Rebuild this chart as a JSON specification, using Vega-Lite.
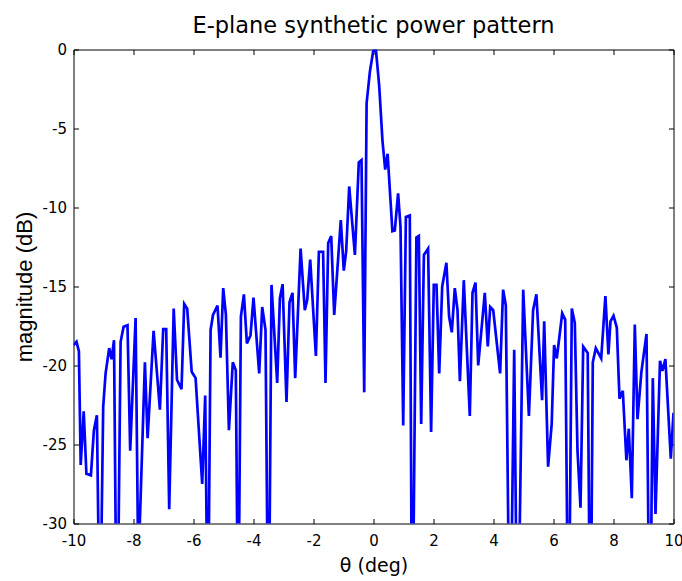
{
  "$schema": "https://vega.github.io/schema/vega-lite/v6.json",
  "width": 600,
  "height": 474,
  "autosize": {"type": "none"},
  "padding": {"left": 73.5, "top": 49.5, "right": 8.5, "bottom": 57.5},
  "background": "white",
  "config": {
    "font": "DejaVu Sans",
    "view": {"stroke": "black", "strokeWidth": 1},
    "axis": {"grid": false, "domainColor": "black", "tickColor": "black", "labelColor": "black", "titleColor": "black", "labelFont": "DejaVu Sans", "titleFont": "DejaVu Sans", "titleFontWeight": "normal"}
  },
  "title": {"text": "E-plane synthetic power pattern", "fontSize": 22.5, "fontWeight": "normal", "color": "black", "font": "DejaVu Sans", "anchor": "middle", "frame": "group", "baseline": "bottom", "offset": -17.5},
  "data": {"values": [
    {"theta": -10.00, "mag": -18.7}, {"theta": -9.90, "mag": -18.5}, {"theta": -9.82, "mag": -19.1}, {"theta": -9.76, "mag": -26.3},
    {"theta": -9.66, "mag": -22.9}, {"theta": -9.57, "mag": -26.85}, {"theta": -9.42, "mag": -26.95}, {"theta": -9.32, "mag": -24.1},
    {"theta": -9.22, "mag": -23.15}, {"theta": -9.12, "mag": -38}, {"theta": -9.01, "mag": -22.6}, {"theta": -8.93, "mag": -20.5},
    {"theta": -8.81, "mag": -18.9}, {"theta": -8.73, "mag": -19.6}, {"theta": -8.65, "mag": -18.4}, {"theta": -8.55, "mag": -40},
    {"theta": -8.43, "mag": -18.5}, {"theta": -8.33, "mag": -17.55}, {"theta": -8.20, "mag": -17.45}, {"theta": -8.11, "mag": -25.4},
    {"theta": -7.93, "mag": -17.0}, {"theta": -7.84, "mag": -33}, {"theta": -7.62, "mag": -19.8}, {"theta": -7.53, "mag": -24.6},
    {"theta": -7.33, "mag": -17.8}, {"theta": -7.12, "mag": -22.8}, {"theta": -7.01, "mag": -17.7}, {"theta": -6.91, "mag": -17.7},
    {"theta": -6.81, "mag": -29.1}, {"theta": -6.66, "mag": -16.4}, {"theta": -6.55, "mag": -20.9}, {"theta": -6.40, "mag": -21.5},
    {"theta": -6.31, "mag": -16.1}, {"theta": -6.21, "mag": -16.4}, {"theta": -6.06, "mag": -20.4}, {"theta": -5.93, "mag": -20.8},
    {"theta": -5.71, "mag": -27.5}, {"theta": -5.61, "mag": -21.9}, {"theta": -5.52, "mag": -38}, {"theta": -5.43, "mag": -17.75},
    {"theta": -5.35, "mag": -16.8}, {"theta": -5.20, "mag": -16.2}, {"theta": -5.10, "mag": -19.5}, {"theta": -5.01, "mag": -15.1},
    {"theta": -4.92, "mag": -16.8}, {"theta": -4.82, "mag": -24.1}, {"theta": -4.69, "mag": -19.8}, {"theta": -4.59, "mag": -20.3},
    {"theta": -4.51, "mag": -38}, {"theta": -4.42, "mag": -16.9}, {"theta": -4.32, "mag": -15.5}, {"theta": -4.22, "mag": -18.6},
    {"theta": -4.10, "mag": -18.1}, {"theta": -4.00, "mag": -15.7}, {"theta": -3.81, "mag": -20.5}, {"theta": -3.71, "mag": -16.3},
    {"theta": -3.60, "mag": -17.75}, {"theta": -3.50, "mag": -40}, {"theta": -3.40, "mag": -14.9}, {"theta": -3.21, "mag": -21.1},
    {"theta": -3.12, "mag": -15.75}, {"theta": -3.03, "mag": -14.85}, {"theta": -2.90, "mag": -22.3}, {"theta": -2.80, "mag": -16.0},
    {"theta": -2.70, "mag": -15.4}, {"theta": -2.61, "mag": -20.8}, {"theta": -2.43, "mag": -12.6}, {"theta": -2.29, "mag": -16.5},
    {"theta": -2.21, "mag": -15.85}, {"theta": -2.11, "mag": -13.3}, {"theta": -1.92, "mag": -19.4}, {"theta": -1.82, "mag": -12.8},
    {"theta": -1.68, "mag": -12.8}, {"theta": -1.60, "mag": -21.1}, {"theta": -1.51, "mag": -12.25}, {"theta": -1.41, "mag": -11.8},
    {"theta": -1.31, "mag": -16.8}, {"theta": -1.09, "mag": -10.8}, {"theta": -0.99, "mag": -14.0}, {"theta": -0.91, "mag": -12.75},
    {"theta": -0.81, "mag": -8.67}, {"theta": -0.62, "mag": -13.0}, {"theta": -0.49, "mag": -7.15}, {"theta": -0.40, "mag": -7.0},
    {"theta": -0.31, "mag": -21.7}, {"theta": -0.23, "mag": -3.4}, {"theta": -0.12, "mag": -1.4}, {"theta": -0.01, "mag": -0.1},
    {"theta": 0.08, "mag": 0.0}, {"theta": 0.19, "mag": -2.3}, {"theta": 0.30, "mag": -5.8}, {"theta": 0.39, "mag": -7.6},
    {"theta": 0.47, "mag": -6.6}, {"theta": 0.63, "mag": -11.5}, {"theta": 0.71, "mag": -11.45}, {"theta": 0.82, "mag": -9.1},
    {"theta": 0.90, "mag": -11.2}, {"theta": 0.99, "mag": -23.8}, {"theta": 1.08, "mag": -10.6}, {"theta": 1.21, "mag": -10.5},
    {"theta": 1.29, "mag": -40}, {"theta": 1.43, "mag": -11.9}, {"theta": 1.51, "mag": -11.8}, {"theta": 1.59, "mag": -23.7},
    {"theta": 1.68, "mag": -13.0}, {"theta": 1.82, "mag": -12.6}, {"theta": 1.92, "mag": -24.2}, {"theta": 2.01, "mag": -14.9},
    {"theta": 2.10, "mag": -14.9}, {"theta": 2.19, "mag": -20.5}, {"theta": 2.29, "mag": -15.0}, {"theta": 2.43, "mag": -13.5},
    {"theta": 2.52, "mag": -16.9}, {"theta": 2.61, "mag": -17.9}, {"theta": 2.71, "mag": -15.1}, {"theta": 2.80, "mag": -16.5},
    {"theta": 2.88, "mag": -21.0}, {"theta": 3.01, "mag": -14.6}, {"theta": 3.21, "mag": -23.2}, {"theta": 3.30, "mag": -15.4},
    {"theta": 3.40, "mag": -14.75}, {"theta": 3.49, "mag": -20.0}, {"theta": 3.71, "mag": -15.4}, {"theta": 3.81, "mag": -18.8},
    {"theta": 3.89, "mag": -16.3}, {"theta": 3.99, "mag": -16.5}, {"theta": 4.22, "mag": -20.5}, {"theta": 4.32, "mag": -15.2},
    {"theta": 4.41, "mag": -16.2}, {"theta": 4.55, "mag": -40}, {"theta": 4.69, "mag": -19.0}, {"theta": 4.80, "mag": -40},
    {"theta": 4.99, "mag": -15.2}, {"theta": 5.18, "mag": -23.2}, {"theta": 5.32, "mag": -16.5}, {"theta": 5.43, "mag": -15.5},
    {"theta": 5.62, "mag": -22.2}, {"theta": 5.69, "mag": -17.2}, {"theta": 5.82, "mag": -26.4}, {"theta": 5.94, "mag": -23.7},
    {"theta": 6.02, "mag": -18.7}, {"theta": 6.11, "mag": -19.55}, {"theta": 6.29, "mag": -16.7}, {"theta": 6.39, "mag": -17.1},
    {"theta": 6.50, "mag": -40}, {"theta": 6.61, "mag": -16.4}, {"theta": 6.71, "mag": -17.3}, {"theta": 6.80, "mag": -25.4},
    {"theta": 6.90, "mag": -29.0}, {"theta": 6.99, "mag": -18.8}, {"theta": 7.14, "mag": -19.2}, {"theta": 7.23, "mag": -40},
    {"theta": 7.31, "mag": -19.8}, {"theta": 7.41, "mag": -18.9}, {"theta": 7.59, "mag": -19.55}, {"theta": 7.73, "mag": -15.6},
    {"theta": 7.83, "mag": -19.3}, {"theta": 7.90, "mag": -17.2}, {"theta": 8.00, "mag": -16.85}, {"theta": 8.11, "mag": -17.6},
    {"theta": 8.20, "mag": -22.1}, {"theta": 8.31, "mag": -21.6}, {"theta": 8.43, "mag": -26.0}, {"theta": 8.51, "mag": -24.0},
    {"theta": 8.61, "mag": -28.4}, {"theta": 8.71, "mag": -17.4}, {"theta": 8.80, "mag": -23.4}, {"theta": 8.93, "mag": -20.4},
    {"theta": 9.10, "mag": -18.0}, {"theta": 9.21, "mag": -40}, {"theta": 9.31, "mag": -20.8}, {"theta": 9.40, "mag": -29.4},
    {"theta": 9.55, "mag": -19.7}, {"theta": 9.63, "mag": -20.35}, {"theta": 9.73, "mag": -19.6}, {"theta": 9.91, "mag": -25.9},
    {"theta": 10.00, "mag": -23.0}
  ]},
  "layer": [
    {
      "mark": {"type": "line", "color": "#0000ff", "strokeWidth": 2.7, "clip": true, "strokeJoin": "miter", "strokeMiterLimit": 4},
      "encoding": {
        "x": {"field": "theta", "type": "quantitative",
              "scale": {"domain": [-10, 10], "nice": false, "zero": false},
              "axis": {"orient": "bottom", "values": [-10, -8, -6, -4, -2, 0, 2, 4, 6, 8, 10], "labelExpr": "'' + datum.value", "tickSize": -5, "labelPadding": 15, "labelFontSize": 15, "labelFlush": false, "labelOverlap": false, "domain": false,
                       "title": "θ (deg)", "titleFontSize": 19, "titleBaseline": "alphabetic", "titleY": 47.5}},
        "y": {"field": "mag", "type": "quantitative",
              "scale": {"domain": [-30, 0], "nice": false, "zero": false},
              "axis": {"orient": "left", "values": [0, -5, -10, -15, -20, -25, -30], "labelExpr": "'' + datum.value", "tickSize": -5, "labelPadding": 12, "labelFontSize": 15, "labelFlush": false, "labelOverlap": false, "domain": false,
                       "title": "magnitude (dB)", "titleFont": "Liberation Sans", "titleFontSize": 22, "titleAngle": -90, "titleBaseline": "alphabetic", "titleAlign": "center", "titleX": -42, "titleY": 237}}
      }
    },
    {
      "mark": {"type": "line", "opacity": 0},
      "encoding": {
        "x": {"field": "theta", "type": "quantitative",
              "scale": {"domain": [-10, 10], "nice": false, "zero": false},
              "axis": {"orient": "top", "values": [-10, -8, -6, -4, -2, 0, 2, 4, 6, 8, 10], "tickSize": -5, "labels": false, "domain": false, "title": null}},
        "y": {"field": "mag", "type": "quantitative",
              "scale": {"domain": [-30, 0], "nice": false, "zero": false},
              "axis": {"orient": "right", "values": [0, -5, -10, -15, -20, -25, -30], "tickSize": -5, "labels": false, "domain": false, "title": null}}
      }
    }
  ],
  "resolve": {"axis": {"x": "independent", "y": "independent"}}
}
